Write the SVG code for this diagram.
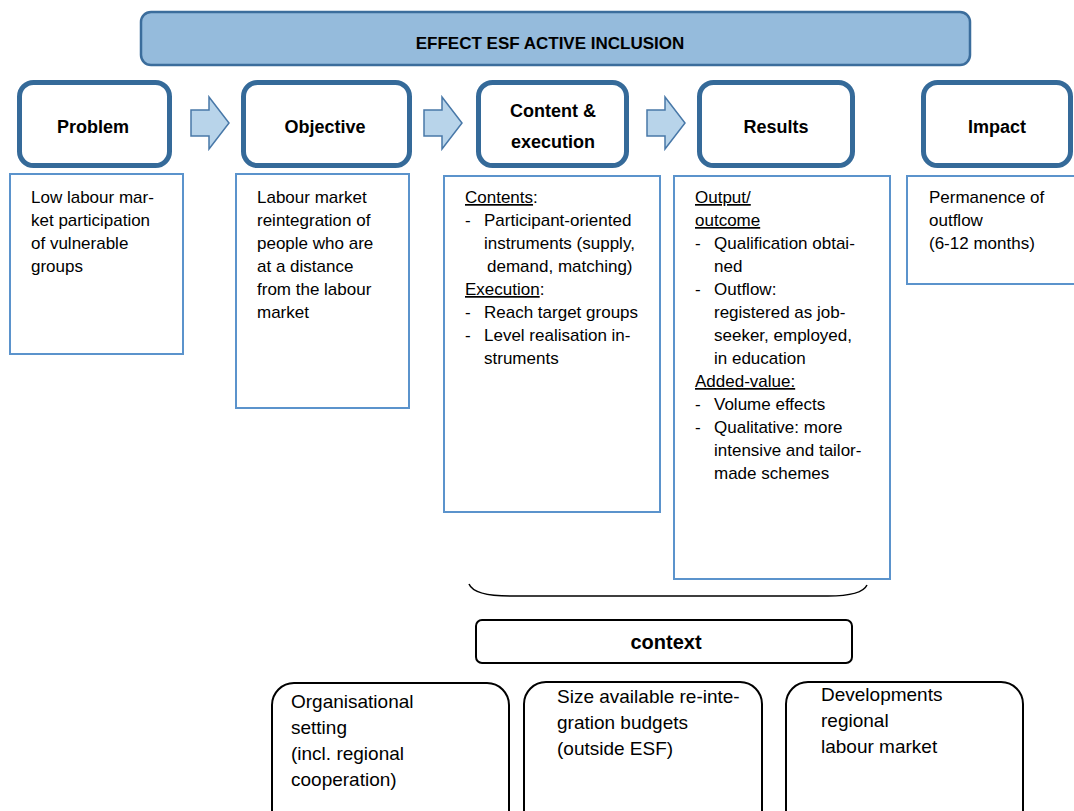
<svg xmlns="http://www.w3.org/2000/svg" width="1074" height="811" viewBox="0 0 1074 811">
<style>
.banner{fill:#95bbdc;stroke:#3b6d9c;stroke-width:2.5}
.hdr{fill:#fff;stroke:#356a99;stroke-width:5}
.tb{fill:#fff;stroke:#5b93cc;stroke-width:2}
.ctx{fill:#fff;stroke:#000;stroke-width:2}
.arr{fill:#b8d4ea;stroke:#4878a8;stroke-width:1.5}
.bt{font-family:"Liberation Sans",Arial,sans-serif;font-weight:bold;fill:#000;text-anchor:middle}
.t{font-family:"Liberation Sans",Arial,sans-serif;font-size:17px;fill:#000}
.b{font-family:"Liberation Sans",Arial,sans-serif;font-size:19px;fill:#000}
.u{text-decoration:underline}
</style>
<g id="banner">
<rect class="banner" x="141" y="12" width="829" height="53" rx="10"/>
<text class="bt" x="550" y="49" font-size="17">EFFECT ESF ACTIVE INCLUSION</text>
</g>
<g id="problem">
<rect class="hdr" x="19.5" y="82.5" width="150" height="83" rx="14"/>
<text class="bt" x="93" y="133" font-size="18">Problem</text>
</g>
<g id="objective">
<rect class="hdr" x="243.5" y="82.5" width="166" height="83" rx="14"/>
<text class="bt" x="325" y="133" font-size="18">Objective</text>
</g>
<g id="content">
<rect class="hdr" x="478.5" y="82.5" width="148" height="83" rx="14"/>
<text class="bt" x="553" y="117" font-size="18">Content &amp;</text>
<text class="bt" x="553" y="148" font-size="18">execution</text>
</g>
<g id="results">
<rect class="hdr" x="699.5" y="82.5" width="153" height="83" rx="14"/>
<text class="bt" x="776" y="133" font-size="18">Results</text>
</g>
<g id="impact">
<rect class="hdr" x="923.5" y="82.5" width="147" height="83" rx="14"/>
<text class="bt" x="997" y="133" font-size="18">Impact</text>
</g>
<g id="connectors">
<path class="arr" d="M191,110 H209 V97 L229,123 L209,149 V136 H191 Z"/>
<path class="arr" d="M424,110 H442 V97 L462,123 L442,149 V136 H424 Z"/>
<path class="arr" d="M647,110 H665 V97 L685,123 L665,149 V136 H647 Z"/>
<path d="M469,584 Q474,596 510,596 L828,596 Q862,596 867,585" fill="none" stroke="#000" stroke-width="1.5"/>
</g>
<g id="problem-text">
<rect class="tb" x="10" y="174" width="173" height="180"/>
<text class="t" x="31" y="203">Low labour mar-</text>
<text class="t" x="31" y="226">ket participation</text>
<text class="t" x="31" y="249">of vulnerable</text>
<text class="t" x="31" y="272">groups</text>
</g>
<g id="objective-text">
<rect class="tb" x="236" y="174" width="173" height="234"/>
<text class="t" x="257" y="203">Labour market</text>
<text class="t" x="257" y="226">reintegration of</text>
<text class="t" x="257" y="249">people who are</text>
<text class="t" x="257" y="272">at a distance</text>
<text class="t" x="257" y="295">from the labour</text>
<text class="t" x="257" y="318">market</text>
</g>
<g id="content-text">
<rect class="tb" x="444" y="176" width="216" height="336"/>
<text class="t" x="465" y="203"><tspan class="u">Contents</tspan>:</text>
<text class="t" x="465" y="226">-</text>
<text class="t" x="484" y="226">Participant-oriented</text>
<text class="t" x="484" y="249">instruments (supply,</text>
<text class="t" x="487" y="272">demand, matching)</text>
<text class="t" x="465" y="295"><tspan class="u">Execution</tspan>:</text>
<text class="t" x="465" y="318">-</text>
<text class="t" x="484" y="318">Reach target groups</text>
<text class="t" x="465" y="341">-</text>
<text class="t" x="484" y="341">Level realisation in-</text>
<text class="t" x="484" y="364">struments</text>
</g>
<g id="results-text">
<rect class="tb" x="674" y="176" width="216" height="403"/>
<text class="t" x="695" y="203"><tspan class="u">Output/</tspan></text>
<text class="t" x="695" y="226"><tspan class="u">outcome</tspan></text>
<text class="t" x="695" y="249">-</text>
<text class="t" x="714" y="249">Qualification obtai-</text>
<text class="t" x="714" y="272">ned</text>
<text class="t" x="695" y="295">-</text>
<text class="t" x="714" y="295">Outflow:</text>
<text class="t" x="714" y="318">registered as job-</text>
<text class="t" x="714" y="341">seeker, employed,</text>
<text class="t" x="714" y="364">in education</text>
<text class="t" x="695" y="387"><tspan class="u">Added-value:</tspan></text>
<text class="t" x="695" y="410">-</text>
<text class="t" x="714" y="410">Volume effects</text>
<text class="t" x="695" y="433">-</text>
<text class="t" x="714" y="433">Qualitative: more</text>
<text class="t" x="714" y="456">intensive and tailor-</text>
<text class="t" x="714" y="479">made schemes</text>
</g>
<g id="impact-text">
<rect class="tb" x="907" y="176" width="180" height="108"/>
<text class="t" x="929" y="203">Permanence of</text>
<text class="t" x="929" y="226">outflow</text>
<text class="t" x="929" y="249">(6-12 months)</text>
</g>
<g id="context">
<rect class="ctx" x="476" y="620" width="376" height="43" rx="6"/>
<text class="bt" x="666" y="649" font-size="20">context</text>
</g>
<g id="organisational">
<rect class="ctx" x="272" y="683" width="237" height="150" rx="22"/>
<text class="b" x="291" y="708">Organisational</text>
<text class="b" x="291" y="734">setting</text>
<text class="b" x="291" y="760">(incl. regional</text>
<text class="b" x="291" y="786">cooperation)</text>
</g>
<g id="budgets">
<rect class="ctx" x="524" y="682" width="238" height="150" rx="22"/>
<text class="b" x="557" y="703">Size available re-inte-</text>
<text class="b" x="557" y="729">gration budgets</text>
<text class="b" x="557" y="755">(outside ESF)</text>
</g>
<g id="developments">
<rect class="ctx" x="786" y="682" width="237" height="150" rx="22"/>
<text class="b" x="821" y="701">Developments</text>
<text class="b" x="821" y="727">regional</text>
<text class="b" x="821" y="753">labour market</text>
</g>
</svg>
